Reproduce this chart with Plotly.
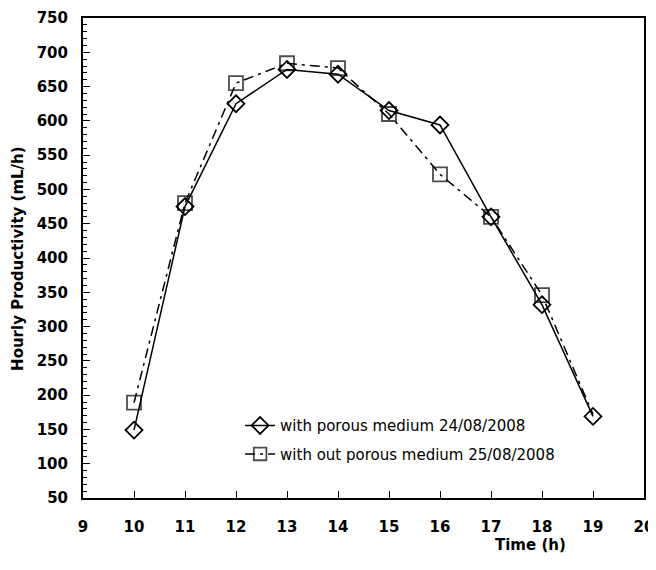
import plotly.graph_objects as go

hours = [10, 11, 12, 13, 14, 15, 16, 17, 18, 19]
with_porous = [149, 475, 625, 675, 668, 615, 594, 460, 332, 169]
without_porous = [189, 480, 655, 684, 677, 610, 522, 460, 346, 172]

name_with = "with porous medium 24/08/2008"
name_without = "with out porous medium 25/08/2008"

FONT = "DejaVu Sans"

fig = go.Figure()
fig.add_trace(go.Scatter(
    x=hours, y=with_porous, name=name_with, mode="lines+markers", legendgroup="a",
    line=dict(color="black", width=1.5),
    marker=dict(symbol="diamond-open", size=13, color="black", line=dict(width=1.8, color="black")),
))
fig.add_trace(go.Scatter(
    x=hours, y=without_porous, name=name_without, mode="lines+markers", legendgroup="b",
    line=dict(color="black", width=1.5, dash="10px,5px,3px,5px"),
    marker=dict(symbol="square-open", size=[14]*9 + [0], color="black", line=dict(width=1.8, color="black")),
))

tickfont = dict(family=FONT, size=15, color="black", weight="bold")

# page body has an 8px default margin, so the figure is drawn 8px smaller and shifted
fig.update_layout(
    width=648, height=562,
    margin=dict(l=75, r=12, t=10, b=72, autoexpand=False),
    paper_bgcolor="white", plot_bgcolor="white",
    showlegend=True,
    legend=dict(x=0.28, y=0.185, xanchor="left", yanchor="top",
                bgcolor="rgba(0,0,0,0)", font=dict(family=FONT, size=15, color="black"),
                tracegroupgap=6),
    xaxis=dict(range=[9, 20], tickmode="linear", tick0=9, dtick=1, automargin=False,
               showline=True, linecolor="black", linewidth=2, mirror=True,
               ticks="inside", ticklen=7, tickwidth=1, tickcolor="black",
               showgrid=False, zeroline=False, tickfont=tickfont, ticklabelstandoff=14,
               ticklabeloverflow="allow"),
    yaxis=dict(range=[50, 750], tickmode="linear", tick0=50, dtick=50, automargin=False,
               showline=True, linecolor="black", linewidth=2, mirror=True,
               ticks="inside", ticklen=7, tickwidth=1, tickcolor="black",
               minor=dict(ticks="inside", ticklen=4, dtick=10, tickcolor="black", tickwidth=1),
               showgrid=False, zeroline=False, tickfont=tickfont, ticklabelstandoff=10,
               ticklabeloverflow="allow"),
    annotations=[
        dict(text="Time (h)", xref="paper", yref="paper", x=0.797, y=-0.097,
             xanchor="center", yanchor="middle", showarrow=False,
             font=dict(family=FONT, size=15, color="black", weight="bold")),
        dict(text="Hourly Productivity (mL/h)", xref="paper", yref="paper", x=-0.116, y=0.5,
             xanchor="center", yanchor="middle", showarrow=False, textangle=-90,
             font=dict(family=FONT, size=15, color="black", weight="bold")),
    ],
)

fig.write_html("out.html")
